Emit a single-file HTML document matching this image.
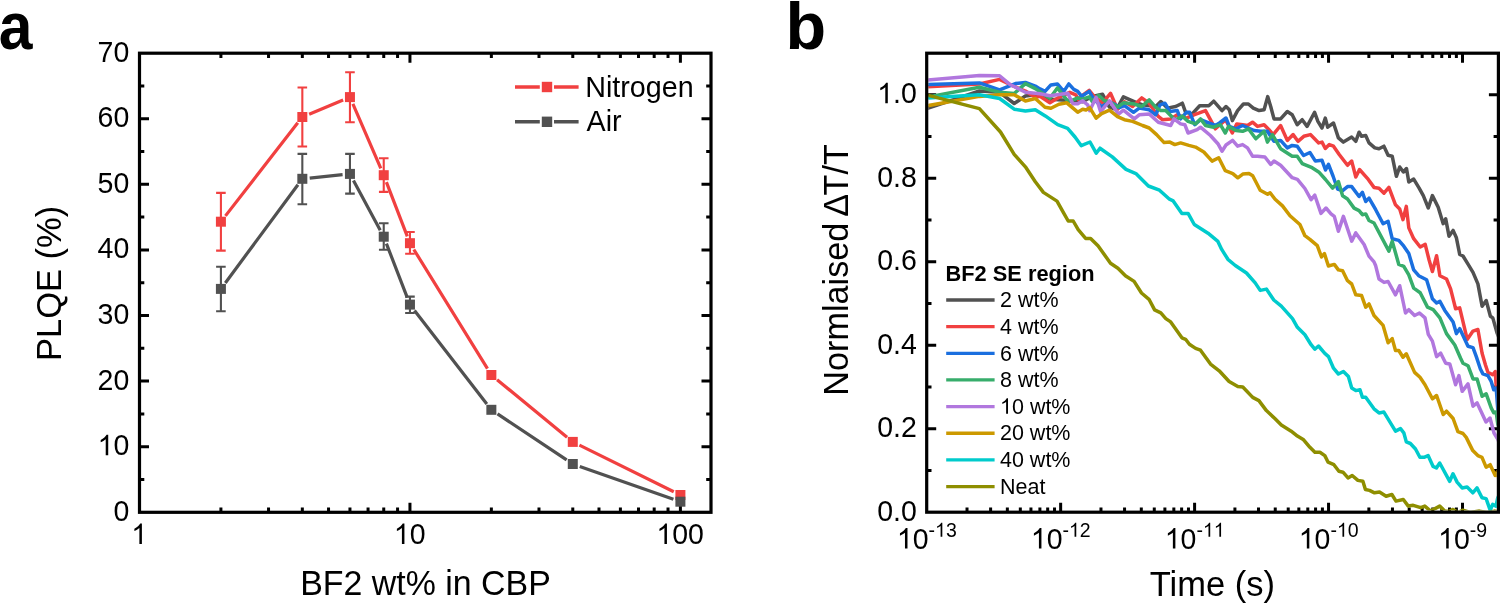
<!DOCTYPE html><html><head><meta charset="utf-8"><style>html,body{margin:0;padding:0;background:#fff;overflow:hidden}</style></head><body><svg width="1500" height="604" viewBox="0 0 1500 604" style="display:block;will-change:transform" font-family='"Liberation Sans", sans-serif'><rect width="1500" height="604" fill="#fff"/><path d="M139.50 479.50h4.8M711.00 479.50h-4.8M139.50 446.70h9.5M711.00 446.70h-9.5M139.50 413.90h4.8M711.00 413.90h-4.8M139.50 381.10h9.5M711.00 381.10h-9.5M139.50 348.30h4.8M711.00 348.30h-4.8M139.50 315.50h9.5M711.00 315.50h-9.5M139.50 282.70h4.8M711.00 282.70h-4.8M139.50 249.90h9.5M711.00 249.90h-9.5M139.50 217.10h4.8M711.00 217.10h-4.8M139.50 184.30h9.5M711.00 184.30h-9.5M139.50 151.50h4.8M711.00 151.50h-4.8M139.50 118.70h9.5M711.00 118.70h-9.5M139.50 85.90h4.8M711.00 85.90h-4.8M220.91 512.30v-4.8M220.91 53.20v4.8M268.54 512.30v-4.8M268.54 53.20v4.8M302.33 512.30v-4.8M302.33 53.20v4.8M328.54 512.30v-4.8M328.54 53.20v4.8M349.95 512.30v-4.8M349.95 53.20v4.8M368.06 512.30v-4.8M368.06 53.20v4.8M383.74 512.30v-4.8M383.74 53.20v4.8M397.57 512.30v-4.8M397.57 53.20v4.8M409.95 512.30v-9.5M409.95 53.20v9.5M491.36 512.30v-4.8M491.36 53.20v4.8M538.99 512.30v-4.8M538.99 53.20v4.8M572.78 512.30v-4.8M572.78 53.20v4.8M598.99 512.30v-4.8M598.99 53.20v4.8M620.40 512.30v-4.8M620.40 53.20v4.8M638.51 512.30v-4.8M638.51 53.20v4.8M654.19 512.30v-4.8M654.19 53.20v4.8M668.02 512.30v-4.8M668.02 53.20v4.8M680.40 512.30v-9.5M680.40 53.20v9.5" stroke="#000" stroke-width="3" fill="none"/><rect x="139.5" y="53.2" width="571.50" height="459.10" fill="none" stroke="#000" stroke-width="3.2"/><text transform="translate(113.45 520.89) scale(1 1.04)" font-size="28.5" xml:space="preserve">0</text><path transform="translate(97.60 455.29) scale(0.01392 -0.01392)" d="M763 0H583V1147Q518 1085 412.5 1023T222 930V1104Q372 1175 484.5 1276T644 1472H763V0Z"/><text transform="translate(113.45 455.29) scale(1 1.04)" font-size="28.5" xml:space="preserve">0</text><text transform="translate(97.60 389.69) scale(1 1.04)" font-size="28.5" xml:space="preserve">20</text><text transform="translate(97.60 324.09) scale(1 1.04)" font-size="28.5" xml:space="preserve">30</text><text transform="translate(97.60 258.49) scale(1 1.04)" font-size="28.5" xml:space="preserve">40</text><text transform="translate(97.60 192.89) scale(1 1.04)" font-size="28.5" xml:space="preserve">50</text><text transform="translate(97.60 127.29) scale(1 1.04)" font-size="28.5" xml:space="preserve">60</text><text transform="translate(97.60 61.69) scale(1 1.04)" font-size="28.5" xml:space="preserve">70</text><path transform="translate(131.27 544.00) scale(0.01392 -0.01392)" d="M763 0H583V1147Q518 1085 412.5 1023T222 930V1104Q372 1175 484.5 1276T644 1472H763V0Z"/><path transform="translate(393.80 544.00) scale(0.01392 -0.01392)" d="M763 0H583V1147Q518 1085 412.5 1023T222 930V1104Q372 1175 484.5 1276T644 1472H763V0Z"/><text transform="translate(409.65 544.00) scale(1 1.04)" font-size="28.5" xml:space="preserve">0</text><path transform="translate(656.32 544.00) scale(0.01392 -0.01392)" d="M763 0H583V1147Q518 1085 412.5 1023T222 930V1104Q372 1175 484.5 1276T644 1472H763V0Z"/><text transform="translate(672.17 544.00) scale(1 1.04)" font-size="28.5" xml:space="preserve">00</text><text transform="translate(425.50 594.60) scale(1 1.04)" font-size="33.9" text-anchor="middle" font-weight="normal" >BF2 wt% in CBP</text><text transform="translate(60.7 283.4) rotate(-90) scale(1 1.04)" font-size="34.5" text-anchor="middle">PLQE (%)</text><text transform="translate(-1.28 48.5) scale(0.912 1)" font-size="66.5" font-weight="bold">a</text><path d="M225.46 215.86L297.78 122.84M309.16 114.15L343.12 99.95M352.89 103.89L380.80 168.41M386.40 182.10L407.29 236.30M413.84 249.50L487.47 368.70M497.08 379.70L567.06 437.20M579.41 445.17L673.76 491.73" stroke="#F14040" stroke-width="3.2" fill="none"/><path d="M220.91 192.90V250.60M216.11 192.90h9.6M216.11 250.60h9.6M302.33 87.50V146.50M297.53 87.50h9.6M297.53 146.50h9.6M349.95 72.20V122.30M345.15 72.20h9.6M345.15 122.30h9.6M383.74 158.20V191.90M378.94 158.20h9.6M378.94 191.90h9.6M409.95 232.00V253.80M405.15 232.00h9.6M405.15 253.80h9.6" stroke="#F14040" stroke-width="2.1" fill="none"/><rect x="215.91" y="216.70" width="10" height="10" fill="#F14040"/><rect x="297.33" y="112.00" width="10" height="10" fill="#F14040"/><rect x="344.95" y="92.10" width="10" height="10" fill="#F14040"/><rect x="378.74" y="170.20" width="10" height="10" fill="#F14040"/><rect x="404.95" y="238.20" width="10" height="10" fill="#F14040"/><rect x="486.36" y="370.00" width="10" height="10" fill="#F14040"/><rect x="567.78" y="436.90" width="10" height="10" fill="#F14040"/><rect x="675.40" y="490.00" width="10" height="10" fill="#F14040"/><path d="M225.31 282.95L297.93 184.75M309.69 178.04L342.59 174.66M353.46 180.42L380.23 230.18M386.41 243.60L407.29 297.70M414.48 310.45L486.83 403.95M497.52 413.90L566.62 459.90M579.76 466.45L673.42 499.25" stroke="#515151" stroke-width="3.2" fill="none"/><path d="M220.91 266.80V311.30M216.11 266.80h9.6M216.11 311.30h9.6M302.33 153.90V204.20M297.53 153.90h9.6M297.53 204.20h9.6M349.95 153.90V193.60M345.15 153.90h9.6M345.15 193.60h9.6M383.74 223.20V249.80M378.94 223.20h9.6M378.94 249.80h9.6M409.95 296.60V313.00M405.15 296.60h9.6M405.15 313.00h9.6" stroke="#515151" stroke-width="2.1" fill="none"/><rect x="215.91" y="283.90" width="10" height="10" fill="#515151"/><rect x="297.33" y="173.80" width="10" height="10" fill="#515151"/><rect x="344.95" y="168.90" width="10" height="10" fill="#515151"/><rect x="378.74" y="231.70" width="10" height="10" fill="#515151"/><rect x="404.95" y="299.60" width="10" height="10" fill="#515151"/><rect x="486.36" y="404.80" width="10" height="10" fill="#515151"/><rect x="567.78" y="459.00" width="10" height="10" fill="#515151"/><rect x="675.40" y="496.70" width="10" height="10" fill="#515151"/><path d="M515 87.0H539.8M554 87.0H578.6" stroke="#F14040" stroke-width="3.4"/><rect x="541.8" y="81.8" width="10.4" height="10.4" fill="#F14040"/><text transform="translate(585.20 97.10) scale(1 1.04)" font-size="28.7" text-anchor="start" font-weight="normal" >Nitrogen</text><path d="M515 121.8H539.8M554 121.8H578.6" stroke="#515151" stroke-width="3.4"/><rect x="541.8" y="116.6" width="10.4" height="10.4" fill="#515151"/><text transform="translate(586.50 130.90) scale(1 1.04)" font-size="28.7" text-anchor="start" font-weight="normal" >Air</text><path d="M926.70 470.45h4.8M1498.40 470.45h-4.8M926.70 428.70h9.5M1498.40 428.70h-9.5M926.70 386.95h4.8M1498.40 386.95h-4.8M926.70 345.20h9.5M1498.40 345.20h-9.5M926.70 303.45h4.8M1498.40 303.45h-4.8M926.70 261.70h9.5M1498.40 261.70h-9.5M926.70 219.95h4.8M1498.40 219.95h-4.8M926.70 178.20h9.5M1498.40 178.20h-9.5M926.70 136.45h4.8M1498.40 136.45h-4.8M926.70 94.70h9.5M1498.40 94.70h-9.5M967.02 512.20v-4.8M967.02 53.20v4.8M990.61 512.20v-4.8M990.61 53.20v4.8M1007.35 512.20v-4.8M1007.35 53.20v4.8M1020.33 512.20v-4.8M1020.33 53.20v4.8M1030.93 512.20v-4.8M1030.93 53.20v4.8M1039.90 512.20v-4.8M1039.90 53.20v4.8M1047.67 512.20v-4.8M1047.67 53.20v4.8M1054.52 512.20v-4.8M1054.52 53.20v4.8M1060.65 512.20v-9.5M1060.65 53.20v9.5M1100.97 512.20v-4.8M1100.97 53.20v4.8M1124.56 512.20v-4.8M1124.56 53.20v4.8M1141.30 512.20v-4.8M1141.30 53.20v4.8M1154.28 512.20v-4.8M1154.28 53.20v4.8M1164.88 512.20v-4.8M1164.88 53.20v4.8M1173.85 512.20v-4.8M1173.85 53.20v4.8M1181.62 512.20v-4.8M1181.62 53.20v4.8M1188.47 512.20v-4.8M1188.47 53.20v4.8M1194.60 512.20v-9.5M1194.60 53.20v9.5M1234.92 512.20v-4.8M1234.92 53.20v4.8M1258.51 512.20v-4.8M1258.51 53.20v4.8M1275.25 512.20v-4.8M1275.25 53.20v4.8M1288.23 512.20v-4.8M1288.23 53.20v4.8M1298.83 512.20v-4.8M1298.83 53.20v4.8M1307.80 512.20v-4.8M1307.80 53.20v4.8M1315.57 512.20v-4.8M1315.57 53.20v4.8M1322.42 512.20v-4.8M1322.42 53.20v4.8M1328.55 512.20v-9.5M1328.55 53.20v9.5M1368.87 512.20v-4.8M1368.87 53.20v4.8M1392.46 512.20v-4.8M1392.46 53.20v4.8M1409.20 512.20v-4.8M1409.20 53.20v4.8M1422.18 512.20v-4.8M1422.18 53.20v4.8M1432.78 512.20v-4.8M1432.78 53.20v4.8M1441.75 512.20v-4.8M1441.75 53.20v4.8M1449.52 512.20v-4.8M1449.52 53.20v4.8M1456.37 512.20v-4.8M1456.37 53.20v4.8M1462.50 512.20v-9.5M1462.50 53.20v9.5" stroke="#000" stroke-width="3" fill="none"/><text transform="translate(877.18 520.69) scale(1 1.04)" font-size="28.5" xml:space="preserve">0.0</text><text transform="translate(877.18 437.19) scale(1 1.04)" font-size="28.5" xml:space="preserve">0.2</text><text transform="translate(877.18 353.69) scale(1 1.04)" font-size="28.5" xml:space="preserve">0.4</text><text transform="translate(877.18 270.19) scale(1 1.04)" font-size="28.5" xml:space="preserve">0.6</text><text transform="translate(877.18 186.69) scale(1 1.04)" font-size="28.5" xml:space="preserve">0.8</text><path transform="translate(877.18 103.19) scale(0.01392 -0.01392)" d="M763 0H583V1147Q518 1085 412.5 1023T222 930V1104Q372 1175 484.5 1276T644 1472H763V0Z"/><text transform="translate(893.03 103.19) scale(1 1.04)" font-size="28.5" xml:space="preserve">.0</text><path transform="translate(896.86 548.60) scale(0.01392 -0.01392)" d="M763 0H583V1147Q518 1085 412.5 1023T222 930V1104Q372 1175 484.5 1276T644 1472H763V0Z"/><text transform="translate(912.71 548.60) scale(1 1.04)" font-size="28.5" xml:space="preserve">0</text><text transform="translate(928.56 536.80) scale(1 1.04)" font-size="19.5" xml:space="preserve">-</text><path transform="translate(935.05 536.80) scale(0.00952 -0.00952)" d="M763 0H583V1147Q518 1085 412.5 1023T222 930V1104Q372 1175 484.5 1276T644 1472H763V0Z"/><text transform="translate(945.90 536.80) scale(1 1.04)" font-size="19.5" xml:space="preserve">3</text><path transform="translate(1030.81 548.60) scale(0.01392 -0.01392)" d="M763 0H583V1147Q518 1085 412.5 1023T222 930V1104Q372 1175 484.5 1276T644 1472H763V0Z"/><text transform="translate(1046.66 548.60) scale(1 1.04)" font-size="28.5" xml:space="preserve">0</text><text transform="translate(1062.51 536.80) scale(1 1.04)" font-size="19.5" xml:space="preserve">-</text><path transform="translate(1069.00 536.80) scale(0.00952 -0.00952)" d="M763 0H583V1147Q518 1085 412.5 1023T222 930V1104Q372 1175 484.5 1276T644 1472H763V0Z"/><text transform="translate(1079.85 536.80) scale(1 1.04)" font-size="19.5" xml:space="preserve">2</text><path transform="translate(1164.76 548.60) scale(0.01392 -0.01392)" d="M763 0H583V1147Q518 1085 412.5 1023T222 930V1104Q372 1175 484.5 1276T644 1472H763V0Z"/><text transform="translate(1180.61 548.60) scale(1 1.04)" font-size="28.5" xml:space="preserve">0</text><text transform="translate(1196.46 536.80) scale(1 1.04)" font-size="19.5" xml:space="preserve">-</text><path transform="translate(1202.95 536.80) scale(0.00952 -0.00952)" d="M763 0H583V1147Q518 1085 412.5 1023T222 930V1104Q372 1175 484.5 1276T644 1472H763V0Z"/><path transform="translate(1213.80 536.80) scale(0.00952 -0.00952)" d="M763 0H583V1147Q518 1085 412.5 1023T222 930V1104Q372 1175 484.5 1276T644 1472H763V0Z"/><path transform="translate(1298.71 548.60) scale(0.01392 -0.01392)" d="M763 0H583V1147Q518 1085 412.5 1023T222 930V1104Q372 1175 484.5 1276T644 1472H763V0Z"/><text transform="translate(1314.56 548.60) scale(1 1.04)" font-size="28.5" xml:space="preserve">0</text><text transform="translate(1330.41 536.80) scale(1 1.04)" font-size="19.5" xml:space="preserve">-</text><path transform="translate(1336.90 536.80) scale(0.00952 -0.00952)" d="M763 0H583V1147Q518 1085 412.5 1023T222 930V1104Q372 1175 484.5 1276T644 1472H763V0Z"/><text transform="translate(1347.75 536.80) scale(1 1.04)" font-size="19.5" xml:space="preserve">0</text><path transform="translate(1438.08 548.60) scale(0.01392 -0.01392)" d="M763 0H583V1147Q518 1085 412.5 1023T222 930V1104Q372 1175 484.5 1276T644 1472H763V0Z"/><text transform="translate(1453.93 548.60) scale(1 1.04)" font-size="28.5" xml:space="preserve">0</text><text transform="translate(1469.78 536.80) scale(1 1.04)" font-size="19.5" xml:space="preserve">-9</text><text transform="translate(1212.30 596.00) scale(1 1.04)" font-size="34.5" text-anchor="middle" font-weight="normal" >Time (s)</text><text transform="translate(848.1 395.63) rotate(-90) scale(1 1.04)" font-size="34.2" text-anchor="start">Normlaised <tspan dx="-3.5">Δ</tspan><tspan dx="-1.5">T/T</tspan></text><text transform="translate(785.50 48.50) scale(1 1.0)" font-size="66.5" text-anchor="start" font-weight="bold" >b</text><defs><clipPath id="cb"><rect x="928.30" y="54.80" width="568.50" height="455.80"/></clipPath></defs><g clip-path="url(#cb)" fill="none" stroke-width="3.5" stroke-linejoin="round"><path d="M926.0,108.9 979.4,91.0 999.6,92.3 1014.2,103.5 1025.4,96.0 1035.3,94.8 1040.0,95.8 1050.9,99.3 1072.8,100.8 1082.7,101.8 1089.7,97.8 1093.6,96.3 1102.6,94.3 1109.5,107.2 1116.5,109.7 1123.4,96.8 1135.9,102.4 1142.6,104.8 1155.8,106.5 1160.8,101.5 1167.4,108.1 1175.7,106.5 1182.3,103.2 1185.6,112.3 1192.2,113.9 1199.7,105.7 1208.8,105.7 1213.7,101.2 1222.0,110.6 1226.0,106.5 1229.3,109.8 1232.3,120.6 1237.6,110.6 1243.4,104.0 1248.4,104.0 1253.3,108.1 1259.1,110.6 1264.1,109.8 1267.7,96.6 1270.7,106.5 1274.0,118.9 1280.6,118.9 1287.3,111.5 1292.2,114.8 1297.2,124.7 1302.2,119.7 1307.1,126.4 1314.6,112.3 1317.9,121.4 1322.0,128.0 1325.3,118.1 1327.7,127.2 1333.5,123.0 1338.4,137.9 1343.4,142.1 1351.7,137.1 1355.8,141.3 1359.1,132.2 1361.6,136.3 1365.7,135.5 1369.0,142.9 1374.8,147.9 1379.0,148.7 1383.9,146.2 1388.1,155.3 1392.2,156.2 1396.4,176.3 1399.7,167.0 1403.4,172.0 1406.5,168.5 1408.8,182.0 1413.7,179.1 1419.0,187.8 1423.3,195.6 1428.3,208.0 1432.4,195.6 1438.2,207.2 1443.2,223.7 1445.7,218.8 1449.0,236.2 1453.1,230.4 1456.4,237.8 1459.7,254.4 1463.0,256.0 1468.0,264.1 1473.0,272.4 1477.9,283.9 1482.1,306.3 1486.2,300.5 1490.4,316.2 1492.8,317.9 1497.0,332.8 1502.0,345.0" stroke="#515151"/><path d="M926.0,86.9 979.4,84.0 999.6,79.4 1010.5,84.8 1025.4,91.0 1035.3,97.3 1040.0,96.3 1049.9,102.8 1059.9,96.8 1069.8,92.3 1075.8,94.8 1078.7,99.8 1081.7,95.8 1089.2,90.4 1094.1,96.3 1102.6,102.8 1110.5,93.3 1117.5,109.2 1124.4,101.8 1132.6,106.5 1141.7,97.9 1149.2,103.2 1158.3,116.4 1162.4,119.7 1170.7,118.9 1177.3,114.8 1186.4,118.1 1193.9,114.8 1205.5,110.6 1210.4,119.7 1215.4,128.8 1223.7,121.4 1226.0,120.5 1232.3,133.0 1236.8,123.9 1242.6,124.7 1247.5,125.5 1252.5,122.2 1257.5,126.4 1264.1,124.7 1269.0,129.7 1273.2,134.6 1280.6,125.5 1287.3,140.4 1293.1,134.6 1298.0,141.3 1303.8,136.3 1310.4,134.6 1318.7,142.9 1322.0,142.1 1325.3,148.5 1329.3,144.6 1333.5,146.2 1339.2,154.5 1347.5,165.3 1351.7,161.1 1355.8,177.0 1359.5,169.5 1367.4,178.3 1374.0,187.4 1379.0,188.2 1384.0,193.2 1388.9,187.4 1395.5,204.8 1399.7,208.9 1403.0,219.7 1406.3,206.4 1408.8,227.9 1413.7,238.7 1420.2,247.0 1425.2,244.4 1429.1,260.0 1432.4,271.5 1436.6,255.8 1439.9,275.7 1446.5,279.0 1450.6,288.9 1455.6,308.8 1459.7,307.9 1467.2,339.4 1473.0,331.1 1477.9,329.5 1482.1,353.2 1485.4,364.8 1487.9,372.3 1492.8,374.8 1495.3,371.5 1496.2,386.4 1502.0,395.0" stroke="#F14040"/><path d="M926.0,84.6 979.4,82.9 999.6,89.8 1015.4,83.6 1025.4,82.4 1035.3,86.1 1040.0,88.9 1045.0,91.4 1050.9,84.9 1057.4,83.9 1063.8,91.4 1068.8,83.9 1073.8,89.4 1077.7,91.4 1081.7,96.3 1089.2,91.4 1093.6,98.8 1101.6,106.7 1109.5,101.8 1115.5,104.8 1119.4,107.7 1124.4,105.7 1133.5,112.3 1139.2,108.1 1149.2,109.8 1155.8,114.8 1160.0,104.8 1164.9,103.2 1169.9,111.5 1177.3,110.6 1180.6,118.9 1186.4,112.3 1189.7,112.3 1194.7,124.7 1200.5,119.7 1208.8,123.0 1215.4,125.5 1219.5,123.0 1226.0,118.0 1229.3,126.4 1235.9,128.8 1242.6,125.5 1248.4,128.0 1254.1,130.5 1260.8,131.3 1267.4,131.3 1274.0,141.3 1280.6,140.4 1287.3,147.9 1292.2,145.4 1297.2,146.2 1303.6,155.5 1309.9,152.5 1315.4,161.1 1322.0,160.3 1325.5,170.0 1328.5,164.4 1333.0,176.0 1337.6,189.0 1342.6,190.7 1347.5,186.6 1351.7,186.6 1359.1,196.5 1362.4,192.4 1365.7,201.5 1369.0,198.1 1375.7,209.7 1383.1,223.8 1388.1,221.3 1392.2,238.7 1398.8,240.4 1403.8,246.2 1408.8,253.6 1413.7,269.9 1418.7,275.7 1426.6,279.8 1432.4,298.8 1436.6,303.0 1439.9,301.3 1444.8,310.4 1453.1,322.0 1456.4,333.6 1459.7,328.6 1468.0,346.3 1473.0,347.6 1476.3,356.6 1480.4,369.0 1482.9,373.9 1487.9,375.6 1491.2,381.4 1493.7,389.7 1496.2,388.0 1497.8,409.5 1502.0,420.0" stroke="#1A6FDF"/><path d="M926.0,97.3 979.4,87.3 999.6,92.3 1014.2,93.5 1025.4,83.6 1035.3,88.6 1040.0,91.8 1049.9,98.3 1057.4,87.9 1066.8,99.8 1069.8,101.3 1077.7,97.8 1081.7,99.3 1089.2,96.8 1092.1,101.3 1098.6,95.3 1104.5,100.8 1109.5,101.8 1117.5,107.2 1123.4,102.8 1134.3,104.0 1141.7,106.5 1149.2,99.9 1155.8,107.3 1160.8,110.6 1165.7,110.6 1172.4,117.3 1175.7,119.7 1182.3,116.1 1188.1,121.4 1195.5,123.9 1200.5,118.9 1205.5,125.5 1213.7,127.2 1220.4,124.7 1225.3,133.0 1228.5,126.4 1235.9,130.5 1242.6,131.3 1248.4,128.8 1255.8,138.8 1264.1,131.3 1267.4,142.1 1272.4,134.6 1280.6,148.7 1292.2,156.2 1297.2,156.2 1302.2,163.6 1312.1,167.7 1318.7,171.9 1325.5,179.5 1332.6,188.2 1338.4,181.6 1342.6,195.7 1347.5,199.0 1354.1,208.1 1359.1,210.6 1362.4,214.7 1365.7,213.9 1369.0,220.5 1374.0,223.0 1388.9,251.1 1392.2,241.2 1398.8,264.4 1403.8,266.3 1408.8,274.9 1413.7,288.1 1420.2,292.7 1427.5,307.1 1433.2,309.6 1439.9,317.9 1446.5,333.6 1454.8,345.0 1460.6,358.2 1463.0,363.2 1468.0,365.7 1473.0,378.9 1477.1,378.9 1482.1,396.3 1486.2,393.8 1491.2,407.9 1493.7,412.8 1496.2,412.0 1497.8,424.4 1502.0,435.0" stroke="#37AD6B"/><path d="M926.0,80.2 979.4,75.4 999.6,75.8 1010.5,84.8 1025.4,92.3 1040.0,93.8 1049.9,95.8 1067.8,93.3 1072.8,103.8 1077.7,103.8 1082.7,100.8 1087.7,104.8 1089.7,110.7 1096.1,97.3 1100.6,111.7 1109.5,100.8 1118.5,114.2 1123.4,110.2 1134.3,118.9 1139.2,114.8 1149.2,113.9 1158.3,122.2 1170.7,125.5 1174.0,118.9 1180.6,123.9 1184.8,124.7 1188.1,133.0 1197.2,129.7 1200.5,127.2 1210.4,135.5 1217.9,143.7 1222.0,151.2 1226.0,145.0 1232.6,140.4 1237.6,146.2 1242.6,144.6 1247.5,147.9 1252.5,156.2 1257.5,156.2 1264.9,157.0 1270.7,164.4 1274.0,161.1 1280.6,165.3 1292.2,177.7 1297.4,179.3 1304.9,188.5 1311.1,199.7 1314.8,195.2 1321.0,213.4 1326.0,208.0 1331.0,213.9 1334.3,216.4 1338.4,231.3 1343.4,216.4 1351.7,241.2 1355.8,232.9 1364.1,244.5 1369.0,256.1 1374.0,261.9 1375.7,265.8 1379.0,279.0 1384.0,282.4 1388.1,281.5 1395.5,294.8 1399.7,285.7 1405.5,313.0 1408.8,309.7 1414.6,315.5 1419.5,313.0 1425.0,317.9 1428.3,334.4 1432.4,341.1 1436.6,356.6 1440.7,353.2 1445.7,363.2 1449.8,364.0 1455.6,384.7 1458.9,375.6 1462.2,391.3 1468.0,383.9 1473.0,406.2 1477.1,402.9 1486.0,422.0 1490.0,418.0 1494.0,433.0 1497.7,439.0 1502.0,450.0" stroke="#B177DE"/><path d="M926.0,106.0 979.4,96.4 999.6,94.8 1014.2,94.8 1025.4,101.0 1035.3,98.5 1040.0,102.8 1045.0,107.2 1050.9,108.2 1058.9,104.3 1066.8,102.8 1077.7,112.2 1082.7,109.2 1086.0,110.0 1089.7,107.7 1096.1,118.2 1101.6,113.7 1109.5,110.2 1117.5,116.7 1124.4,119.7 1132.6,121.4 1142.6,125.5 1149.2,128.0 1156.6,134.6 1164.1,142.6 1169.9,142.1 1174.8,144.6 1180.6,142.9 1188.9,145.4 1195.5,147.1 1203.8,152.0 1212.1,161.1 1218.7,157.8 1225.3,170.7 1232.8,173.6 1237.8,177.8 1242.8,174.1 1249.0,173.6 1252.7,175.8 1260.2,190.2 1267.6,194.2 1270.1,192.7 1275.1,199.2 1282.5,205.9 1290.0,215.8 1299.9,224.5 1304.9,235.7 1309.9,239.4 1317.3,245.7 1321.5,257.0 1324.4,253.5 1328.4,266.0 1334.3,264.4 1338.4,269.9 1342.6,270.8 1347.5,280.7 1351.7,284.0 1355.8,294.8 1361.6,295.6 1365.7,307.2 1369.0,303.9 1374.0,315.5 1383.1,325.4 1388.1,342.8 1392.2,338.6 1395.5,350.5 1398.8,350.5 1403.0,357.2 1406.3,353.8 1414.6,372.4 1420.0,377.3 1425.0,384.7 1432.4,398.8 1436.6,395.5 1443.2,414.5 1446.5,411.2 1453.1,418.5 1457.9,431.6 1463.0,433.5 1466.2,437.4 1472.8,450.6 1477.8,455.6 1482.0,457.3 1486.1,467.2 1490.2,464.7 1495.2,475.5 1497.7,471.3 1499.0,481.3 1502.0,485.0" stroke="#CC9900"/><path d="M926.0,98.0 979.4,94.8 999.6,98.5 1014.2,109.2 1025.4,111.0 1035.3,109.7 1045.3,115.9 1057.7,124.6 1067.6,128.3 1075.0,137.0 1081.3,145.7 1090.0,142.0 1096.2,153.2 1100.0,148.2 1112.3,156.9 1126.0,169.4 1135.9,173.6 1148.4,186.0 1159.5,190.2 1169.5,199.2 1173.2,200.9 1181.9,213.4 1188.1,213.4 1194.3,224.5 1208.0,233.2 1217.9,241.4 1221.7,249.4 1227.9,259.3 1235.3,265.5 1246.5,273.0 1255.2,282.9 1260.2,290.4 1266.4,289.1 1273.8,300.0 1281.3,306.2 1292.5,318.6 1297.4,327.3 1304.9,334.8 1311.1,344.7 1314.8,349.2 1318.5,346.0 1324.8,353.4 1328.5,356.6 1333.5,368.2 1338.4,374.0 1343.4,371.5 1348.4,376.5 1351.7,388.1 1355.8,390.6 1360.0,389.7 1362.4,397.2 1365.7,397.2 1374.0,408.8 1379.0,412.9 1383.9,412.1 1395.5,431.1 1400.5,428.6 1403.8,432.8 1406.3,441.9 1410.4,443.5 1415.5,449.0 1419.9,457.3 1424.0,457.3 1428.1,455.6 1433.1,466.4 1436.4,468.0 1439.7,463.0 1449.7,481.3 1453.0,473.8 1457.1,482.1 1462.1,487.9 1467.1,487.1 1472.8,492.8 1477.0,487.9 1482.0,497.8 1486.1,498.6 1490.2,510.2 1492.7,504.4 1496.0,506.1 1497.7,497.8 1502.0,490.0" stroke="#00CBCC"/><path d="M926.0,94.8 979.4,108.6 1000.5,132.0 1014.2,154.4 1025.4,166.8 1035.3,181.7 1043.4,192.4 1057.0,201.1 1063.3,212.3 1068.2,221.0 1073.2,221.0 1078.2,229.7 1085.6,238.4 1090.6,238.4 1098.0,245.8 1110.5,263.2 1117.9,268.2 1125.4,275.7 1134.1,281.4 1141.5,293.0 1149.0,299.3 1154.6,309.9 1160.8,312.9 1165.8,318.6 1170.7,321.9 1181.9,337.8 1185.6,339.3 1189.4,344.2 1195.6,348.4 1200.5,350.2 1210.5,364.1 1219.2,370.8 1229.1,381.5 1237.8,386.5 1242.8,387.0 1252.7,397.4 1258.9,400.6 1266.4,410.6 1275.1,418.8 1281.3,425.0 1291.2,431.2 1297.4,436.1 1303.6,439.8 1309.9,447.3 1314.9,452.3 1319.9,452.3 1324.8,455.6 1328.1,462.2 1333.9,464.7 1338.9,471.3 1343.0,472.2 1348.0,477.9 1352.2,475.5 1357.9,480.4 1362.9,481.3 1365.4,489.5 1369.5,490.4 1374.5,492.8 1379.5,492.0 1386.1,496.2 1391.9,494.5 1396.0,501.1 1403.3,499.5 1408.3,506.1 1413.2,505.3 1420.7,507.7 1424.8,506.1 1430.6,511.1 1439.7,506.1 1444.7,511.1 1449.0,511.5 1453.0,509.4 1458.0,512.5 1462.9,510.2 1470.0,512.5 1479.5,511.1 1487.0,512.5 1494.4,511.1 1502.0,512.0" stroke="#8E8E00"/></g><rect x="926.7" y="53.2" width="571.70" height="459.00" fill="none" stroke="#000" stroke-width="3.2"/><text transform="translate(945.54 280.90) scale(1 1.0)" font-size="21.8" text-anchor="start" font-weight="bold" >BF2 SE region</text><path d="M946.2 300.00H994.6" stroke="#515151" stroke-width="3.3"/><text transform="translate(1000.00 307.20) scale(1 1.04)" font-size="21.5" xml:space="preserve">2 wt%</text><path d="M946.2 326.65H994.6" stroke="#F14040" stroke-width="3.3"/><text transform="translate(1000.00 333.85) scale(1 1.04)" font-size="21.5" xml:space="preserve">4 wt%</text><path d="M946.2 353.30H994.6" stroke="#1A6FDF" stroke-width="3.3"/><text transform="translate(1000.00 360.50) scale(1 1.04)" font-size="21.5" xml:space="preserve">6 wt%</text><path d="M946.2 379.95H994.6" stroke="#37AD6B" stroke-width="3.3"/><text transform="translate(1000.00 387.15) scale(1 1.04)" font-size="21.5" xml:space="preserve">8 wt%</text><path d="M946.2 406.60H994.6" stroke="#B177DE" stroke-width="3.3"/><path transform="translate(1000.00 413.80) scale(0.01050 -0.01050)" d="M763 0H583V1147Q518 1085 412.5 1023T222 930V1104Q372 1175 484.5 1276T644 1472H763V0Z"/><text transform="translate(1011.96 413.80) scale(1 1.04)" font-size="21.5" xml:space="preserve">0 wt%</text><path d="M946.2 433.25H994.6" stroke="#CC9900" stroke-width="3.3"/><text transform="translate(1000.00 440.45) scale(1 1.04)" font-size="21.5" xml:space="preserve">20 wt%</text><path d="M946.2 459.90H994.6" stroke="#00CBCC" stroke-width="3.3"/><text transform="translate(1000.00 467.10) scale(1 1.04)" font-size="21.5" xml:space="preserve">40 wt%</text><path d="M946.2 486.55H994.6" stroke="#8E8E00" stroke-width="3.3"/><text transform="translate(1000.00 493.75) scale(1 1.04)" font-size="21.5" text-anchor="start" font-weight="normal" >Neat</text></svg></body></html>
